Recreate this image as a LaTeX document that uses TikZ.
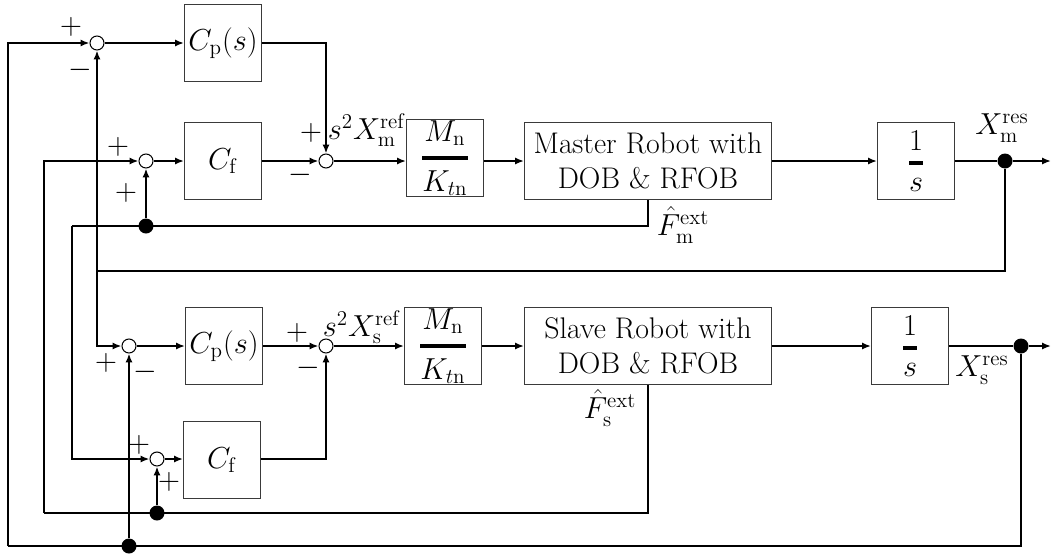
\documentclass[tikz,border=0pt]{standalone}
\usepackage{amsmath}
\usepackage{tikz}
\usetikzlibrary{arrows.meta,calc}
\definecolor{boxline}{HTML}{3A3A3A}

\begin{document}
\begin{tikzpicture}[x=0.02cm,y=-0.02cm,>={Latex[length=5pt,width=4pt]}]
\tikzstyle{block}=[draw=boxline,line width=0.6pt,minimum width=1.54cm,minimum height=1.54cm,inner sep=0pt,align=center,font=\fontsize{17}{20}\selectfont]
\tikzstyle{robot}=[block,minimum width=4.94cm]
\tikzstyle{sumpt}=[draw,circle,line width=0.6pt,minimum size=0.28cm,inner sep=0pt,fill=white]
\tikzstyle{dotpt}=[circle,fill,minimum size=0.3cm,inner sep=0pt]
\tikzstyle{sig}=[line width=1pt]
\tikzstyle{lbl}=[inner sep=0pt,font=\fontsize{17}{20}\selectfont]
\newcommand{\gain}{$\displaystyle{M_\mathrm{n}\above 2pt K_{t\mathrm{n}}}$}
\newcommand{\integ}{$\displaystyle{1\above 2pt s}$}
\useasboundingbox (0,0) rectangle (1051,555);

% master side
\node[sumpt] (sp1) at (97,43) {};
\node[block] (cp1) at (223,43) {$C_\mathrm{p}(s)$};
\node[sumpt] (sf1) at (146,161) {};
\node[block] (cf1) at (223,161) {$C_\mathrm{f}$};
\node[sumpt] (sm1) at (326,161) {};
\node[block] (mk1) at (445,158) {\gain};
\node[robot] (rob1) at (648,161) {Master Robot with\\DOB \& RFOB};
\node[block] (int1) at (916,161) {\integ};
\node[dotpt] (dm) at (1005,161) {};
\coordinate (mout) at (1051,161);
\coordinate (mrail) at (97,271);
\coordinate (frail1) at (72,226);
\node[dotpt] (df1) at (146,226) {};

% slave side
\node[sumpt] (sp2) at (129,346) {};
\node[block] (cp2) at (224,346) {$C_\mathrm{p}(s)$};
\node[sumpt] (sm2) at (326,346) {};
\node[block] (mk2) at (443,346) {\gain};
\node[robot] (rob2) at (648,346) {Slave Robot with\\DOB \& RFOB};
\node[block] (int2) at (910,346) {\integ};
\node[dotpt] (ds) at (1021,346) {};
\coordinate (sout) at (1051,346);
\node[sumpt] (sf2) at (157,459) {};
\node[block] (cf2) at (222,460) {$C_\mathrm{f}$};
\coordinate (frail2) at (44,513);
\node[dotpt] (df2) at (157,513) {};
\coordinate (lowrail) at (8,546);
\node[dotpt] (dp) at (129,546) {};

% forward paths
\draw[sig,->] (sp1) -- (cp1);
\draw[sig,->] (cp1.east) -| (sm1);
\draw[sig,->] (sf1) -- (cf1);
\draw[sig,->] (cf1) -- (sm1);
\draw[sig,->] (sm1) -- (sm1 -| mk1.west);
\draw[sig,->] (mk1.east |- rob1) -- (rob1);
\draw[sig,->] (rob1) -- (int1);
\draw[sig] (int1) -- (dm);
\draw[sig,->] (dm) -- (mout);
\draw[sig,->] (sp2) -- (cp2);
\draw[sig,->] (cp2) -- (sm2);
\draw[sig,->] (sf2) -- (cf2.west |- sf2);
\draw[sig,->] (cf2.east |- sf2) -| (sm2);
\draw[sig,->] (sm2) -- (mk2);
\draw[sig,->] (mk2) -- (rob2);
\draw[sig,->] (rob2) -- (int2);
\draw[sig] (int2) -- (ds);
\draw[sig,->] (ds) -- (sout);

% feedback paths
\draw[sig] (dm) |- (mrail);
\draw[sig,->] (mrail) -- (sp1);
\draw[sig,->] (mrail) |- (sp2);
\draw[sig] (rob1.south) |- (frail1);
\draw[sig,->] (frail1) |- (sf2);
\draw[sig,->] (df1) -- (sf1);
\draw[sig] (rob2.south) |- (frail2);
\draw[sig,->] (frail2) |- (sf1);
\draw[sig,->] (df2) -- (sf2);
\draw[sig] (ds) |- (lowrail);
\draw[sig,->] (lowrail) |- (sp1);
\draw[sig,->] (dp) -- (sp2);

% signs and signal names
\node[lbl] at (71,27) {$+$};
\node[lbl] at (80,70) {$-$};
\node[lbl] at (118,147) {$+$};
\node[lbl] at (126,193) {$+$};
\node[lbl] at (311,133) {$+$};
\node[lbl] at (300,175) {$-$};
\node[lbl] at (367,130) {$s^2X^{\mathrm{ref}}_{\mathrm{m}}$};
\node[lbl] at (683,225) {$\hat{F}^{\mathrm{ext}}_{\mathrm{m}}$};
\node[lbl] at (1002,128) {$X^{\mathrm{res}}_{\mathrm{m}}$};
\node[lbl] at (106,363) {$+$};
\node[lbl] at (145,372) {$-$};
\node[lbl] at (297,333) {$+$};
\node[lbl] at (308,368) {$-$};
\node[lbl] at (362,327) {$s^2X^{\mathrm{ref}}_{\mathrm{s}}$};
\node[lbl] at (610,408) {$\hat{F}^{\mathrm{ext}}_{\mathrm{s}}$};
\node[lbl] at (982,370) {$X^{\mathrm{res}}_{\mathrm{s}}$};
\node[lbl] at (139,445) {$+$};
\node[lbl] at (169,482) {$+$};
\end{tikzpicture}
\end{document}
